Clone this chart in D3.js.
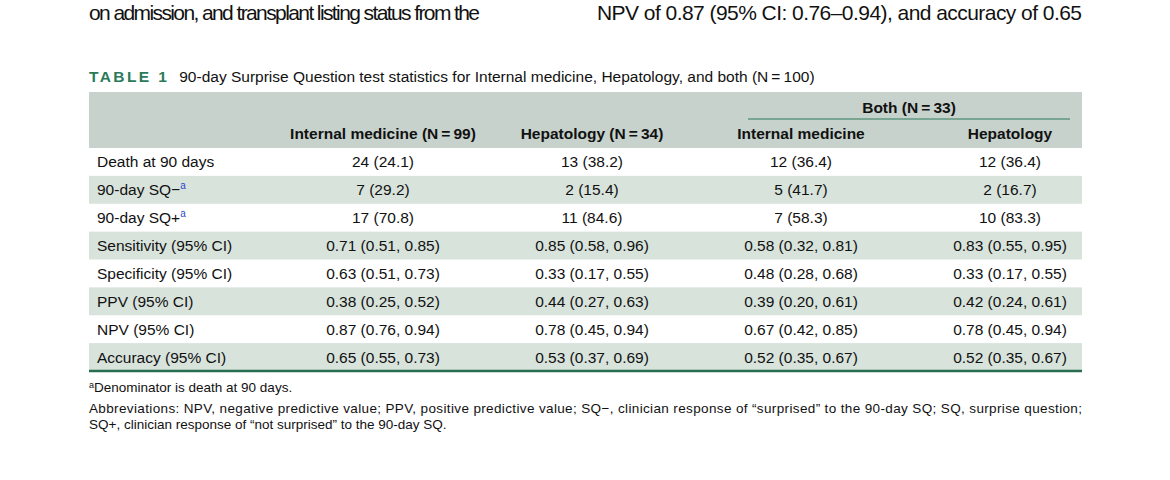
<!DOCTYPE html>
<html><head><meta charset="utf-8">
<script src="https://cdn.jsdelivr.net/npm/d3@7"></script>
<style>body{margin:0;background:#fff}text{font-family:"Liberation Sans",Arial,sans-serif}</style>
</head><body><svg id="c" width="1170" height="480"></svg>
<script>
const rowLabels=["Death at 90 days","90-day SQ\u2212","90-day SQ+","Sensitivity (95% CI)","Specificity (95% CI)","PPV (95% CI)","NPV (95% CI)","Accuracy (95% CI)"];
const supA=[false,true,true,false,false,false,false,false];
const colHeaders=["Internal medicine (N\u2009=\u200999)","Hepatology (N\u2009=\u200934)","Internal medicine","Hepatology"];
const internal=["24 (24.1)","7 (29.2)","17 (70.8)","0.71 (0.51, 0.85)","0.63 (0.51, 0.73)","0.38 (0.25, 0.52)","0.87 (0.76, 0.94)","0.65 (0.55, 0.73)"];
const hepatology=["13 (38.2)","2 (15.4)","11 (84.6)","0.85 (0.58, 0.96)","0.33 (0.17, 0.55)","0.44 (0.27, 0.63)","0.78 (0.45, 0.94)","0.53 (0.37, 0.69)"];
const bothIM=["12 (36.4)","5 (41.7)","7 (58.3)","0.58 (0.32, 0.81)","0.48 (0.28, 0.68)","0.39 (0.20, 0.61)","0.67 (0.42, 0.85)","0.52 (0.35, 0.67)"];
const bothHep=["12 (36.4)","2 (16.7)","10 (83.3)","0.83 (0.55, 0.95)","0.33 (0.17, 0.55)","0.42 (0.24, 0.61)","0.78 (0.45, 0.94)","0.52 (0.35, 0.67)"];
const cols=[internal,hepatology,bothIM,bothHep];

const svg=d3.select("#c");
const L=89,R=1082,FS=15.5;
const colX=d3.scalePoint().domain(d3.range(4)).range([383,1010]);
const rowY=d3.scaleBand().domain(d3.range(8)).range([148,371]);

svg.append("text").attr("x",L).attr("y",20).attr("font-size",21).attr("fill","#111").attr("textLength",391).attr("lengthAdjust","spacing").text("on admission, and transplant listing status from the");
svg.append("text").attr("x",597).attr("y",20).attr("font-size",21).attr("fill","#111").attr("textLength",485).attr("lengthAdjust","spacing").text("NPV of 0.87 (95% CI: 0.76\u20130.94), and accuracy of 0.65");

const cap=svg.append("text").attr("x",L).attr("y",82).attr("font-size",FS).attr("fill","#111");
cap.append("tspan").attr("font-weight","bold").attr("fill","#2a7a5a").attr("letter-spacing",2.4).text("TABLE 1");
cap.append("tspan").attr("dx",10).text("90-day Surprise Question test statistics for Internal medicine, Hepatology, and both (N\u2009=\u2009100)");

svg.append("rect").attr("x",L).attr("y",92).attr("width",R-L).attr("height",56).attr("fill","#c6d2cb");
svg.append("text").attr("x",(748+1070)/2).attr("y",113).attr("text-anchor","middle").attr("font-size",FS).attr("font-weight","bold").attr("fill","#111").text("Both (N\u2009=\u200933)");
svg.append("line").attr("x1",748).attr("x2",1070).attr("y1",119).attr("y2",119).attr("stroke","#2a7a5a").attr("stroke-width",1);
svg.selectAll(".ch").data(colHeaders).join("text").attr("x",(d,i)=>colX(i)).attr("y",139).attr("text-anchor","middle").attr("font-size",FS).attr("font-weight","bold").attr("fill","#111").text(d=>d);

svg.selectAll(".rb").data(d3.range(8).filter(i=>i%2==1)).join("rect").attr("x",L).attr("width",R-L).attr("y",i=>rowY(i)).attr("height",rowY.bandwidth()).attr("fill","#d8e3dc");
const lab=svg.selectAll(".rl").data(rowLabels).join("text").attr("x",97).attr("y",(d,i)=>rowY(i)+rowY.bandwidth()/2+5.5).attr("font-size",FS).attr("fill","#111").text(d=>d);
lab.filter((d,i)=>supA[i]).append("tspan").attr("dy",-6).attr("font-size",10).attr("fill","#3344cc").text("a");
cols.forEach((c,j)=>{
  svg.selectAll(".v"+j).data(c).join("text").attr("x",colX(j)).attr("y",(d,i)=>rowY(i)+rowY.bandwidth()/2+5.5).attr("text-anchor","middle").attr("font-size",FS).attr("fill","#111").text(d=>d);
});
svg.append("line").attr("x1",L).attr("x2",R).attr("y1",371).attr("y2",371).attr("stroke","#2a6e52").attr("stroke-width",2.5);

const f1=svg.append("text").attr("x",L).attr("y",392).attr("font-size",13.5).attr("fill","#111");
f1.append("tspan").attr("font-size",9).attr("dy",-4).text("a");
f1.append("tspan").attr("dy",4).text("Denominator is death at 90 days.");
svg.append("text").attr("x",L).attr("y",413).attr("font-size",13.5).attr("fill","#111").attr("textLength",R-L).attr("lengthAdjust","spacing").text("Abbreviations: NPV, negative predictive value; PPV, positive predictive value; SQ\u2212, clinician response of \u201csurprised\u201d to the 90-day SQ; SQ, surprise question;");
svg.append("text").attr("x",L).attr("y",429).attr("font-size",13.5).attr("fill","#111").text("SQ+, clinician response of \u201cnot surprised\u201d to the 90-day SQ.");
</script></body></html>
